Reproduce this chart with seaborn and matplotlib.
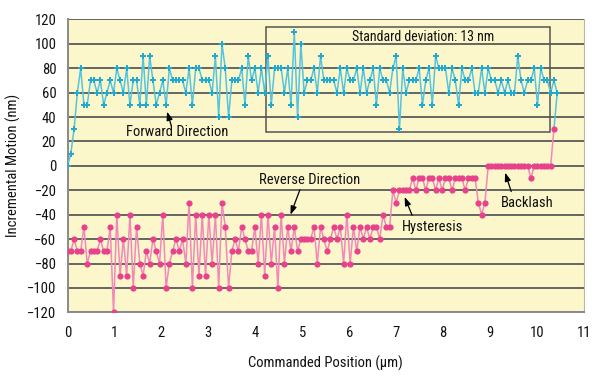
import numpy as np
import pandas as pd
import matplotlib
matplotlib.use("Agg")
import matplotlib.pyplot as plt
from matplotlib.patches import Rectangle
from matplotlib import font_manager
import seaborn as sns

# ---------------- data ----------------
STEP_UM = 0.07  # commanded step size (µm)

forward_nm = [0, 10, 30, 60, 80, 50, 50, 70, 70, 60, 70, 50, 60, 70, 60, 80, 70, 60, 80, 50,
              70, 70, 50, 90, 50, 90, 70, 50, 60, 70, 50, 80, 70, 70, 70, 70, 60, 80, 50, 80,
              80, 70, 70, 70, 60, 90, 40, 100,
              80, 40, 70, 70, 70, 80, 50, 90, 70, 80, 60, 80, 60, 90, 50, 80, 80, 80, 60, 80,
              50, 110, 40, 100,
              60, 70, 70, 80, 60, 90, 70, 70, 70, 70, 60, 80, 60, 80, 70, 70, 80, 60, 80, 60,
              70, 80, 50, 80, 70, 70, 60, 80, 90, 30,
              80, 60, 70, 70, 70, 80, 50, 70, 80, 50, 90, 80, 80, 80, 60, 80, 70, 50, 80, 70,
              70, 80, 60, 60, 80, 60, 80, 70, 70, 60, 70, 60, 70, 60, 60, 90, 70, 60, 70, 70,
              80, 50, 80, 70, 70, 60, 70, 60]

reverse_nm = [-70, -70, -60, -70, -70, -50, -80, -70, -70, -70, -60, -70, -70, -50, -120, -40,
              -90, -60, -90, -40, -100, -50, -80, -90, -70, -80, -60, -70, -80, -40, -100, -80,
              -70, -60, -70, -60, -80, -30, -100, -40, -90, -40, -90, -40, -80, -40, -100, -30,
              -50, -100, -70,
              -60, -70, -50, -60, -70, -70, -50, -80, -40, -90, -40, -80, -50, -100, -40, -80,
              -50, -70, -50, -70, -60, -60, -60, -60, -50, -80, -50, -60, -70, -60, -50, -60,
              -50, -80, -40, -80, -50, -70, -50, -60, -50, -60, -50, -50, -60, -40, -50, -50,
              -20, -30, -20, -20, -20, -20, -10, -20, -10, -10, -20, -10, -10, -20, -10, -20,
              -10, -10, -20, -10, -10, -10, -20, -10, -10, -10, -30, -40, -30,
              0, 0, 0, 0, 0, 0, 0, 0, 0, 0, 0, 0, 0, -10, 0, 0, 0, 0, 0, 0, 30]

x_ticks = list(range(0, 12))
y_ticks = list(range(-120, 121, 20))

box_text = "Standard deviation: 13 nm"

# ---------------- frames ----------------
fwd = pd.DataFrame({"pos": np.round(np.arange(len(forward_nm)) * STEP_UM, 3),
                    "nm": forward_nm})
rev = pd.DataFrame({"pos": np.round(np.arange(len(reverse_nm)) * STEP_UM, 3),
                    "nm": reverse_nm})

# ---------------- style ----------------
sns.set_style("white")
available = {f.name for f in font_manager.fontManager.ttflist}
candidates = ["Liberation Sans Narrow", "DejaVu Sans Condensed", "Roboto Condensed",
              "Open Sans Condensed", "Liberation Sans"]
chosen = [c for c in candidates if c in available]
condensed = bool(chosen) and chosen[0] != "Liberation Sans"
FONT = (chosen[:1] if chosen else []) + ["DejaVu Sans"]
plt.rcParams["font.family"] = FONT
# narrower rendering if no condensed face exists
FS = 10.5 if condensed else 9.6

CYAN_LINE = "#56C4DF"
CYAN_MARK = "#22A9CF"
PINK_LINE = "#F388BA"
PINK_MARK = "#E8428C"
BG = "#FBF7CB"
GRID = "#5a5a5a"
AXIS = "#8a8a8a"

fig = plt.figure(figsize=(6.0, 3.77), dpi=100)
ax = fig.add_axes([0.1125, 0.1716, 0.8608, 0.7767])
ax.set_facecolor(BG)

ax.set_xlim(0, 11)
ax.set_ylim(-120, 120)
ax.set_yticks(y_ticks)
ax.set_xticks(x_ticks)
for yv in y_ticks:
    ax.axhline(yv, color=GRID, lw=1.3, zorder=1)

# forward direction
sns.lineplot(data=fwd, x="pos", y="nm", ax=ax, color=CYAN_LINE, lw=1.1,
             estimator=None, sort=False, zorder=3)
sns.scatterplot(data=fwd, x="pos", y="nm", ax=ax, color=CYAN_MARK, marker="P",
                s=24, linewidth=0, zorder=4)
# link from end of forward travel to start of reverse travel
ax.plot([fwd["pos"].iloc[-1], rev["pos"].iloc[-1]],
        [fwd["nm"].iloc[-1], rev["nm"].iloc[-1]], color=CYAN_LINE, lw=1.1, zorder=3)

# reverse direction
sns.lineplot(data=rev, x="pos", y="nm", ax=ax, color=PINK_LINE, lw=1.1,
             estimator=None, sort=False, zorder=5)
sns.scatterplot(data=rev, x="pos", y="nm", ax=ax, color=PINK_MARK, marker="o",
                s=20, linewidth=0, zorder=6)

# spines / ticks
ax.spines["top"].set_visible(False)
ax.spines["right"].set_color("#b8b8a0")
ax.spines["right"].set_linewidth(0.8)
for side in ["left", "bottom"]:
    ax.spines[side].set_color(AXIS)
    ax.spines[side].set_linewidth(1.4)
ax.tick_params(axis="both", direction="out", length=5, width=1.2, color=AXIS,
               labelsize=FS, labelcolor="#111111", pad=3)
ax.tick_params(axis="x", pad=5)

ax.set_xlabel("Commanded Position (µm)", fontsize=FS, labelpad=11, color="#111111")
ax.set_ylabel("Incremental Motion (nm)", fontsize=FS, labelpad=4, color="#111111")

# std-dev box
ax.add_patch(Rectangle((4.22, 28.1), 10.28 - 4.22, 114.1 - 28.1, fill=False,
                       edgecolor="#555555", lw=1.1, zorder=2))
ax.text(7.58, 105.9, box_text, ha="center", va="center", fontsize=FS - 0.5,
        color="#111111", zorder=7)

arrow = dict(arrowstyle="-|>,head_length=0.5,head_width=0.18", color="black", lw=0.9,
             shrinkA=0, shrinkB=0)
ax.annotate("", xy=(2.12, 44.5), xytext=(2.21, 33.0), arrowprops=arrow, zorder=8)
ax.text(2.34, 27.8, "Forward Direction", ha="center", va="center", fontsize=FS,
        color="#111111", zorder=8)

ax.annotate("", xy=(4.75, -40.0), xytext=(4.95, -19.5), arrowprops=arrow, zorder=8)
ax.text(5.16, -11.5, "Reverse Direction", ha="center", va="center", fontsize=FS,
        color="#111111", zorder=8)

ax.annotate("", xy=(7.18, -25.5), xytext=(7.34, -40.5), arrowprops=arrow, zorder=8)
ax.text(7.77, -49.7, "Hysteresis", ha="center", va="center", fontsize=FS,
        color="#111111", zorder=8)

ax.annotate("", xy=(9.32, -5.5), xytext=(9.45, -21.0), arrowprops=arrow, zorder=8)
ax.text(9.80, -30.0, "Backlash", ha="center", va="center", fontsize=FS,
        color="#111111", zorder=8)

fig.savefig("out.png", dpi=100)
